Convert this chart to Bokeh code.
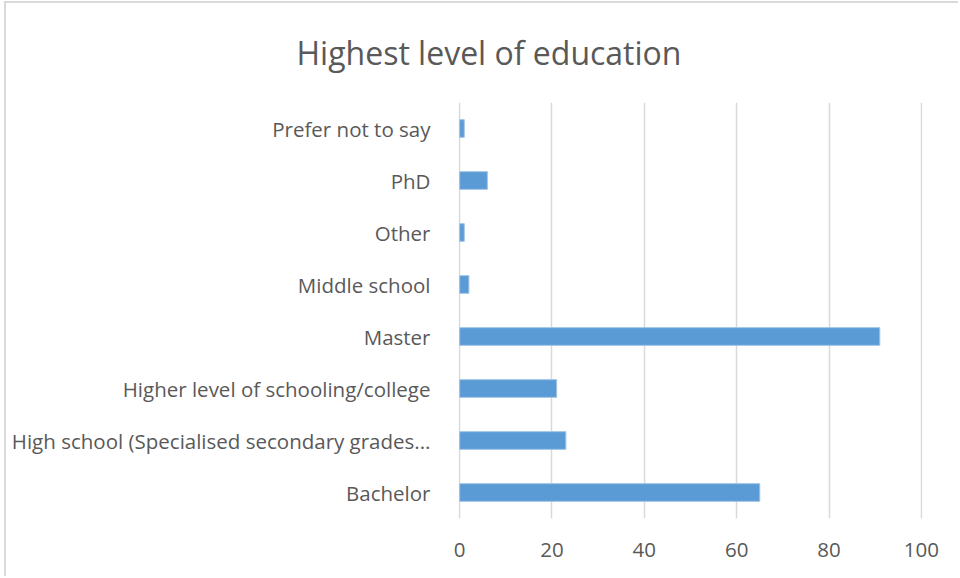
from bokeh.plotting import figure
from bokeh.models import FixedTicker, Range1d
from bokeh.embed import file_html
from bokeh.resources import INLINE

categories = ["Bachelor", "High school (Specialised secondary grades...",
              "Higher level of schooling/college", "Master", "Middle school",
              "Other", "PhD", "Prefer not to say"]
counts = [65, 23, 21, 91, 2, 1, 6, 1]
x_ticks = [0, 20, 40, 60, 80, 100]
title_text = "Highest level of education"

FONT = "Open Sans"
GREY = "#595959"

p = figure(width=954, height=575, y_range=categories, x_range=Range1d(-0.25, 100.25),
           output_backend="svg", toolbar_location=None,
           min_border_left=452, min_border_right=38,
           min_border_top=99, min_border_bottom=60)
p.styles = {"border-left": "2px solid #d9d9d9", "border-top": "2px solid #d9d9d9",
            "margin-left": "4px", "margin-top": "1px"}
p.y_range.range_padding = 0

p.title.text = title_text
p.title.align = "left"
p.title.offset = -162
p.title.vertical_align = "top"
p.title.standoff = 54
p.title.text_font = FONT
p.title.text_font_size = "32px"
p.title.text_font_style = "normal"
p.title.text_color = GREY

p.hbar(y=categories, right=counts, left=0, height=0.34,
       fill_color="#5b9bd5", line_color="#9dc3e6", line_width=1)

p.xaxis.ticker = FixedTicker(ticks=x_ticks)
for ax in (p.xaxis[0], p.yaxis[0]):
    ax.axis_line_color = None
    ax.major_tick_line_color = None
    ax.minor_tick_line_color = None
    ax.major_label_text_font = FONT
    ax.major_label_text_color = GREY
    ax.major_label_text_font_size = "20.5px"
p.xaxis.major_label_standoff = 18
p.yaxis.major_label_standoff = 22

p.ygrid.grid_line_color = None
p.xgrid.grid_line_color = "#d9d9d9"
p.xgrid.grid_line_width = 1.5
p.outline_line_color = None

open("out.html", "w").write(file_html(p, INLINE))
